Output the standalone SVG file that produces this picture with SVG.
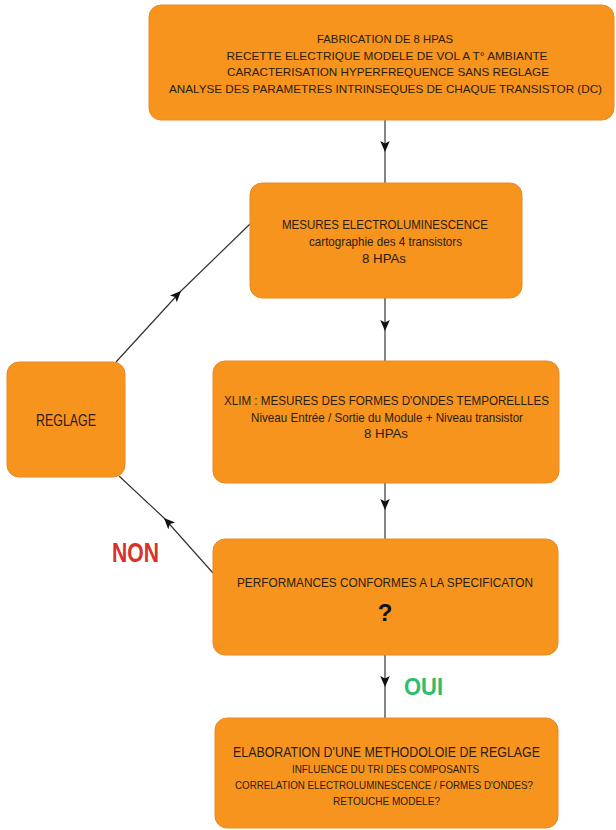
<svg xmlns="http://www.w3.org/2000/svg" width="616" height="830" viewBox="0 0 616 830">
<style>
.box{fill:#F7941E;stroke:#E88A26;stroke-width:1}
text{font-family:"Liberation Sans",Arial,sans-serif;fill:#2a1d10;text-anchor:middle}
.t1{font-size:11.5px}
.t{font-size:13px}
.s{font-size:11.5px}
.c{stroke:#333;stroke-width:1.2;fill:none;marker-mid:url(#ah)}
</style>
<defs>
<marker id="ah" viewBox="-12 -6 14 12" markerWidth="14" markerHeight="12" markerUnits="userSpaceOnUse" refX="0" refY="0" orient="auto">
<path d="M0,0 L-11,-4.8 L-8.5,0 L-11,4.8 Z" fill="#111"/>
</marker>
</defs>
<g id="connectors">
<path class="c" d="M385 120 L385 152 L385 183"/>
<path class="c" d="M385 298 L385 331 L385 361"/>
<path class="c" d="M385 483 L385 510 L385 539"/>
<path class="c" d="M385 655 L385 687 L385 718"/>
<path class="c" d="M116 362 L181 291 L250 224"/>
<path class="c" d="M213 573 L164 518 L119 476"/>
</g>
<g id="n1">
<rect class="box" x="149" y="5" width="465" height="115" rx="12"/>
<text class="t1" x="385" y="43" textLength="136" lengthAdjust="spacingAndGlyphs">FABRICATION DE 8 HPAS</text>
<text class="t1" x="387" y="59.5" textLength="321" lengthAdjust="spacingAndGlyphs">RECETTE ELECTRIQUE MODELE DE VOL A T° AMBIANTE</text>
<text class="t1" x="388" y="76" textLength="322" lengthAdjust="spacingAndGlyphs">CARACTERISATION HYPERFREQUENCE SANS REGLAGE</text>
<text class="t1" x="385.5" y="92.5" textLength="433" lengthAdjust="spacingAndGlyphs">ANALYSE DES PARAMETRES INTRINSEQUES DE CHAQUE TRANSISTOR (DC)</text>
</g>
<g id="n2">
<rect class="box" x="250" y="183" width="272" height="115" rx="12"/>
<text class="t" x="385" y="229" textLength="206" lengthAdjust="spacingAndGlyphs">MESURES ELECTROLUMINESCENCE</text>
<text class="t" x="385.5" y="245.5" textLength="153" lengthAdjust="spacingAndGlyphs">cartographie des 4 transistors</text>
<text class="t" x="384" y="262.5" textLength="44" lengthAdjust="spacingAndGlyphs">8 HPAs</text>
</g>
<g id="n3">
<rect class="box" x="213" y="361" width="346" height="122" rx="12"/>
<text class="t" x="386.5" y="405" textLength="325" lengthAdjust="spacingAndGlyphs">XLIM : MESURES DES FORMES D'ONDES TEMPORELLLES</text>
<text class="t" x="387" y="421.5" textLength="272" lengthAdjust="spacingAndGlyphs">Niveau Entrée / Sortie du Module + Niveau transistor</text>
<text class="t" x="386" y="438" textLength="44" lengthAdjust="spacingAndGlyphs">8 HPAs</text>
</g>
<g id="reglage">
<rect class="box" x="7" y="362" width="118" height="115" rx="12"/>
<text x="66" y="426" style="font-size:16px" textLength="60" lengthAdjust="spacingAndGlyphs">REGLAGE</text>
</g>
<g id="n4">
<rect class="box" x="213" y="539" width="345" height="116" rx="12"/>
<text class="t" x="385" y="587" textLength="296" lengthAdjust="spacingAndGlyphs">PERFORMANCES CONFORMES A LA SPECIFICATON</text>
<text x="385" y="621" style="font-size:24px;font-weight:bold;fill:#111">?</text>
</g>
<g id="n5">
<rect class="box" x="215" y="718" width="343" height="110" rx="12"/>
<text x="386.5" y="757" textLength="307" lengthAdjust="spacingAndGlyphs" style="font-size:14px">ELABORATION D'UNE METHODOLOIE DE REGLAGE</text>
<text class="s" x="385.5" y="773" textLength="187" lengthAdjust="spacingAndGlyphs">INFLUENCE DU TRI DES COMPOSANTS</text>
<text class="s" x="384" y="789" textLength="298" lengthAdjust="spacingAndGlyphs">CORRELATION ELECTROLUMINESCENCE / FORMES D'ONDES?</text>
<text class="s" x="386.5" y="804.5" textLength="107" lengthAdjust="spacingAndGlyphs">RETOUCHE MODELE?</text>
</g>
<g id="labels">
<text x="135.5" y="562" textLength="47" lengthAdjust="spacingAndGlyphs" style="font-size:27px;font-weight:bold;fill:#D9322B">NON</text>
<text x="423.5" y="695" textLength="39" lengthAdjust="spacingAndGlyphs" style="font-size:23px;font-weight:bold;fill:#2DBE6C">OUI</text>
</g>
</svg>
